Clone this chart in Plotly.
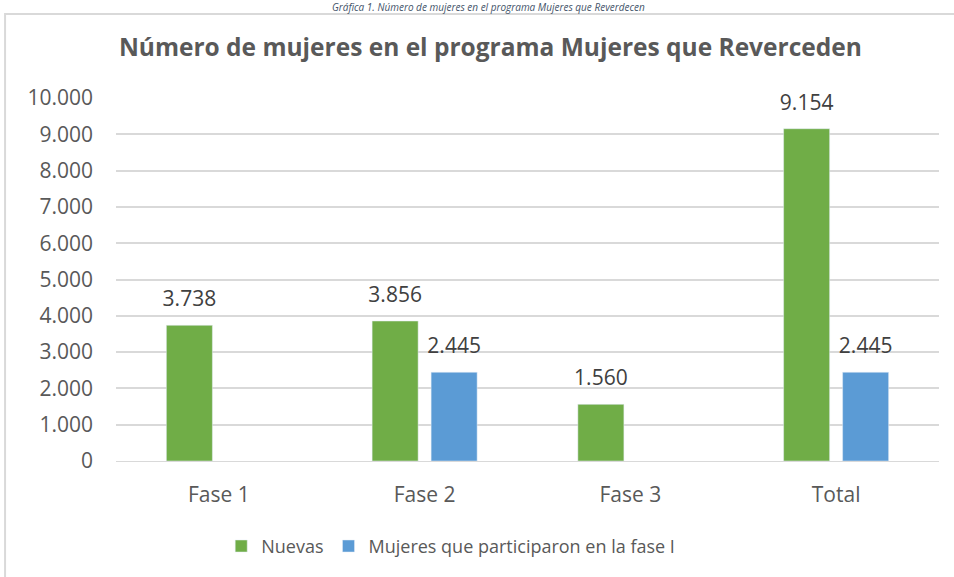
import plotly.graph_objects as go

categories = ["Fase 1", "Fase 2", "Fase 3", "Total"]
nuevas = [3738, 3856, 1560, 9154]
fase_i = [None, 2445, None, 2445]
tick_vals = [0, 1000, 2000, 3000, 4000, 5000, 6000, 7000, 8000, 9000, 10000]
tick_text = ["0", "1.000", "2.000", "3.000", "4.000", "5.000", "6.000", "7.000", "8.000", "9.000", "10.000"]

def fmt(v):
    if v is None:
        return ""
    return "<span style='font-size:21px'>" + f"{v:,}".replace(",", ".") + "</span><br> "

font = "Open Sans, Noto Sans, sans-serif"

fig = go.Figure()
fig.add_trace(go.Bar(
    x=categories, y=nuevas, name="Nuevas", marker_color="#70AD47",
    text=[fmt(v) for v in nuevas], textposition="outside", constraintext="none",
    textfont=dict(size=10, color="#404040", family=font), cliponaxis=False,
))
fig.add_trace(go.Bar(
    x=categories, y=fase_i, name="Mujeres que participaron en la fase I", marker_color="#5B9BD5",
    text=[fmt(v) for v in fase_i], textposition="outside", constraintext="none",
    textfont=dict(size=10, color="#404040", family=font), cliponaxis=False,
))

fig.update_layout(
    width=954, height=577,
    margin=dict(l=116, r=15, t=98, b=116, autoexpand=False),
    paper_bgcolor="white", plot_bgcolor="white",
    font=dict(family=font, color="#595959", size=20),
    barmode="group", bargap=0.4265, bargroupgap=0.22,
    showlegend=True,
    legend=dict(orientation="h", x=0.4067, xanchor="center", y=-0.235, yanchor="middle",
                font=dict(size=18, color="#595959"), itemwidth=30, traceorder="normal"),
    title=dict(text="<b>Número de mujeres en el programa Mujeres que Reverceden</b>",
               x=0.514, xanchor="center", y=0.917, yanchor="middle",
               font=dict(size=24.5, color="#595959", family=font)),
    xaxis=dict(showline=True, linecolor="#D9D9D9", linewidth=1, ticks="",
               ticklabelstandoff=15,
               tickfont=dict(size=21, color="#595959")),
    yaxis=dict(range=[0, 10000], tickvals=tick_vals, ticktext=tick_text,
               showgrid=True, gridcolor="#D9D9D9", gridwidth=1.5, zeroline=False,
               showline=False, ticks="", ticklabelstandoff=22,
               tickfont=dict(size=21, color="#595959")),
    shapes=[dict(type="rect", xref="paper", yref="paper",
                 x0=-0.1348, x1=1.1, y0=-0.5, y1=1.2314,
                 line=dict(color="#D9D9D9", width=2), fillcolor="rgba(0,0,0,0)")],
    annotations=[dict(text="<i>Gráfica 1. Número de mujeres en el programa Mujeres que Reverdecen</i>",
                      xref="paper", yref="paper", x=0.453, xanchor="center",
                      y=1.2507, yanchor="middle", showarrow=False,
                      font=dict(size=10, color="#44546A", family=font))],
)

fig.write_html("out.html", config={"displayModeBar": False},
               post_script="document.body.style.margin='0';")
